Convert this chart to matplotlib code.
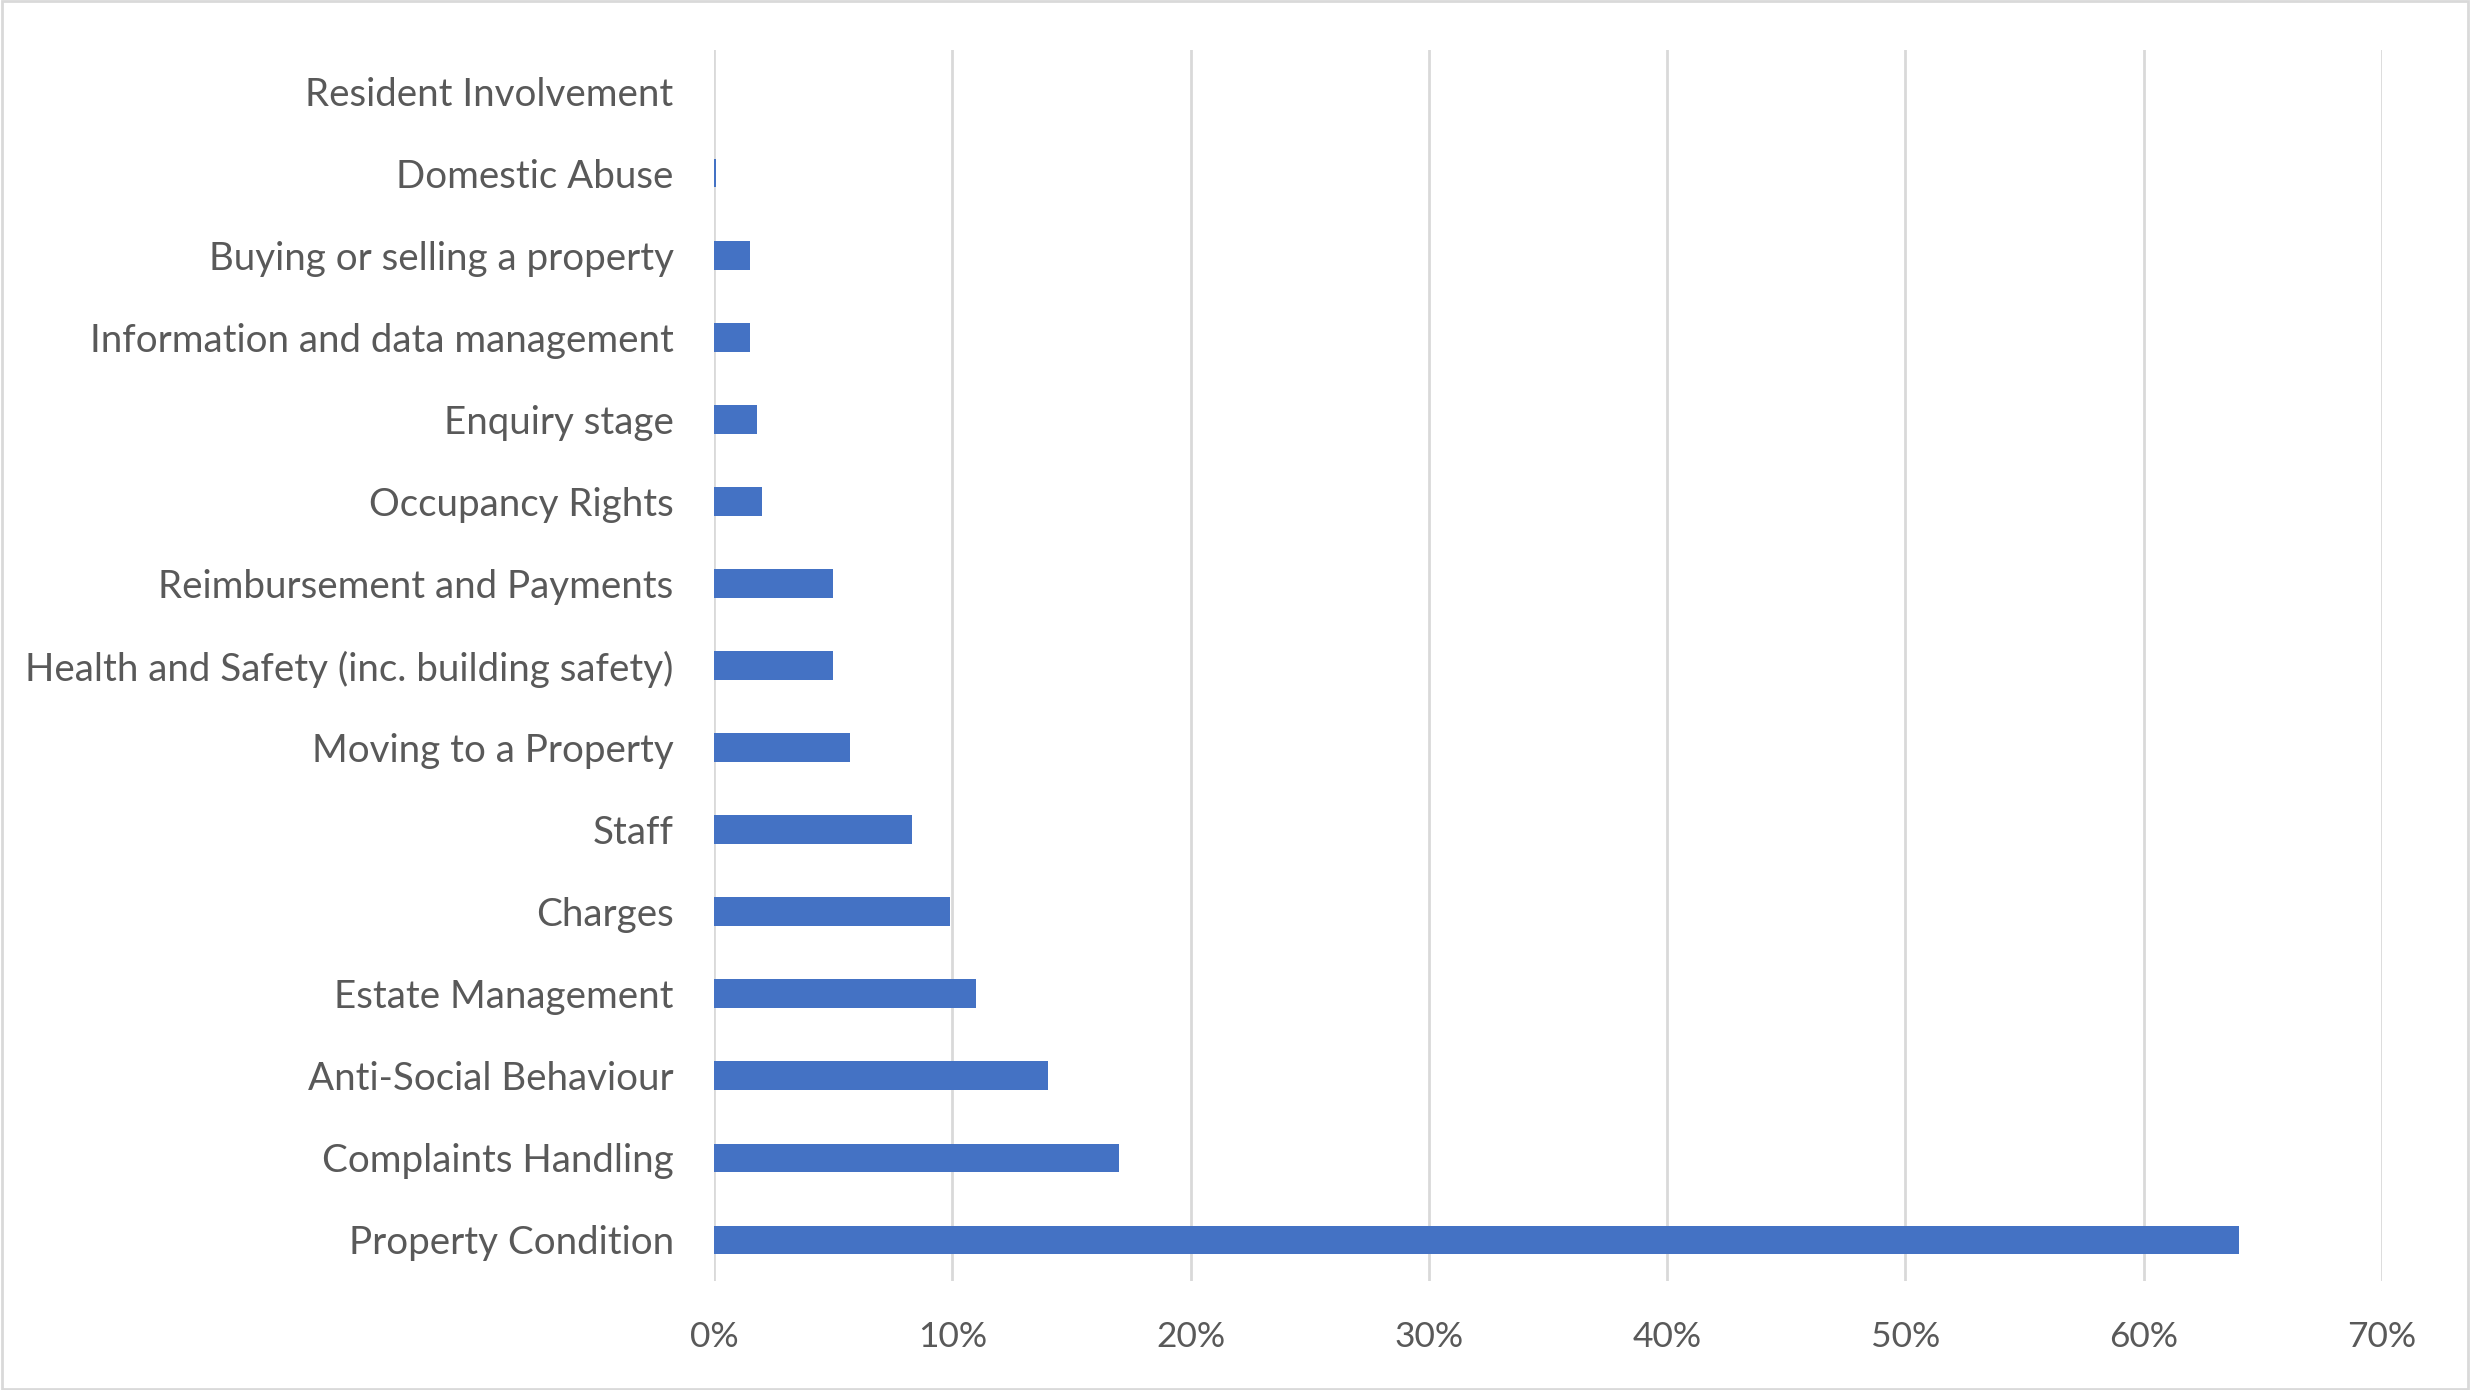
import matplotlib
matplotlib.use("Agg")
import matplotlib.pyplot as plt
from matplotlib.ticker import FuncFormatter
from matplotlib.patches import Rectangle

categories = [
    "Property Condition",
    "Complaints Handling",
    "Anti-Social Behaviour",
    "Estate Management",
    "Charges",
    "Staff",
    "Moving to a Property",
    "Health and Safety (inc. building safety)",
    "Reimbursement and Payments",
    "Occupancy Rights",
    "Enquiry stage",
    "Information and data management",
    "Buying or selling a property",
    "Domestic Abuse",
    "Resident Involvement",
]
values = [64.0, 17.0, 14.0, 11.0, 9.9, 8.3, 5.7, 5.0, 5.0, 2.0, 1.8, 1.5, 1.5, 0.1, 0.0]
xticks = [0, 10, 20, 30, 40, 50, 60, 70]

plt.rcParams['font.family'] = ['Lato', 'DejaVu Sans']
text_color = "#595959"
bar_color = "#4472C4"
grid_color = "#D9D9D9"

fig = plt.figure(figsize=(24.7, 13.9), dpi=100)
ax = fig.add_axes([714/2470, 1 - 1281/1390, (2382-714)/2470, (1281-50)/1390])

y = list(range(len(categories)))
ax.barh(y, values, height=0.35, color=bar_color, zorder=3)
ax.set_ylim(-0.5, len(categories) - 0.5)
ax.set_xlim(0, 70)
ax.set_xticks(xticks)
ax.xaxis.set_major_formatter(FuncFormatter(lambda v, p: f"{v:.0f}%"))
ax.set_yticks(y)
ax.set_yticklabels(categories)
ax.grid(axis='x', color=grid_color, linewidth=2, zorder=0)
ax.set_axisbelow(True)
for s in ax.spines.values():
    s.set_visible(False)
ax.tick_params(axis='both', length=0, colors=text_color)
ax.tick_params(axis='y', pad=29, labelsize=27.7)
ax.tick_params(axis='x', pad=29, labelsize=25.5)

fig.patches.append(Rectangle((0.001, 0.001), 0.998, 0.998, transform=fig.transFigure,
                             fill=False, edgecolor=grid_color, linewidth=2))

fig.savefig("out.png", dpi=100, facecolor="white")
